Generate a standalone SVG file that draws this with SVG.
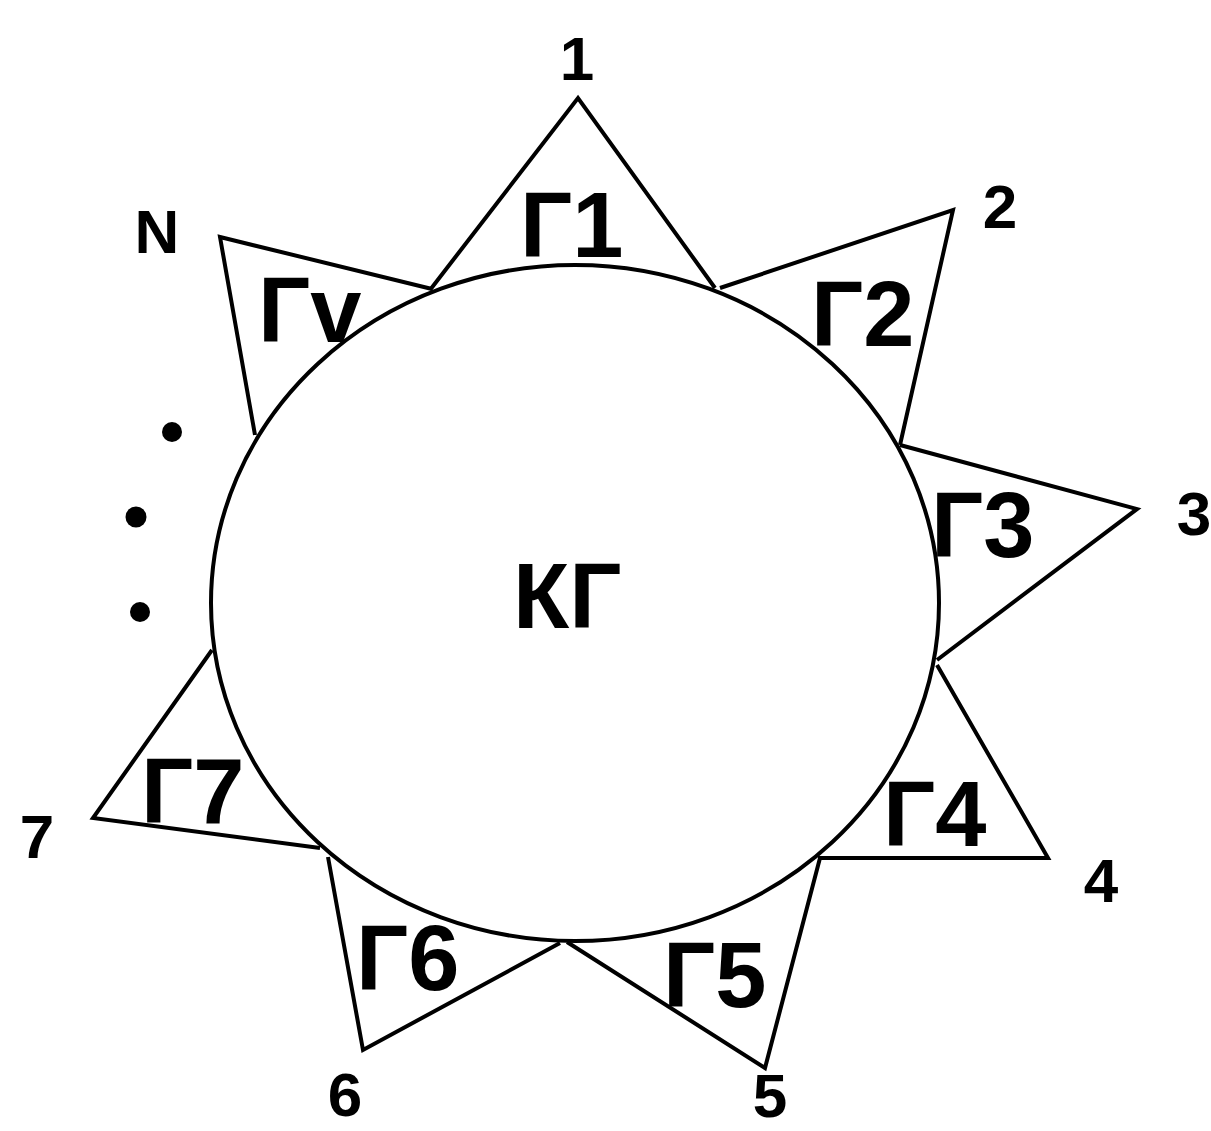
<svg xmlns="http://www.w3.org/2000/svg" width="1211" height="1131" viewBox="0 0 1211 1131">
<style>
.ln{fill:none;stroke:#000;stroke-width:4;stroke-linejoin:miter}
.big{font-family:"Liberation Sans",Arial,sans-serif;font-weight:bold;font-size:92px;fill:#000}
.sm{font-family:"Liberation Sans",Arial,sans-serif;font-weight:bold;font-size:62px;fill:#000;text-anchor:middle}
</style>
<rect width="1211" height="1131" fill="#fff"/>
<g id="core">
<ellipse class="ln" cx="575" cy="603" rx="364" ry="338"/>
<text class="big" x="513" y="628">КГ</text>
</g>
<g id="spike-1">
<polyline class="ln" points="430,290 578,98 715,288"/>
<text class="big" x="520" y="257">Г1</text>
<text class="sm" x="577" y="80">1</text>
</g>
<g id="spike-2">
<polyline class="ln" points="720,288 953,210 900,445"/>
<text class="big" x="811" y="346">Г2</text>
<text class="sm" x="1000" y="228">2</text>
</g>
<g id="spike-3">
<polyline class="ln" points="900,445 1137,509 937,660"/>
<text class="big" x="931" y="557">Г3</text>
<text class="sm" x="1194" y="535">3</text>
</g>
<g id="spike-4">
<polyline class="ln" points="937,665 1048,858 818,858"/>
<text class="big" x="883" y="846">Г4</text>
<text class="sm" x="1101" y="902">4</text>
</g>
<g id="spike-5">
<polyline class="ln" points="820,858 765,1068 567,942"/>
<text class="big" x="663" y="1007">Г5</text>
<text class="sm" x="770" y="1117">5</text>
</g>
<g id="spike-6">
<polyline class="ln" points="560,943 363,1050 328,857"/>
<text class="big" x="356" y="990">Г6</text>
<text class="sm" x="345" y="1116">6</text>
</g>
<g id="spike-7">
<polyline class="ln" points="320,848 93,818 212,650"/>
<text class="big" x="141" y="823">Г7</text>
<text class="sm" x="37" y="858">7</text>
</g>
<g id="spike-N">
<polyline class="ln" points="255,435 220,237 432,289"/>
<text class="big" x="258" y="342">Гv</text>
<text class="sm" x="157" y="253">N</text>
</g>
<g id="ellipsis">
<circle cx="172" cy="432" r="10"/>
<circle cx="136" cy="517" r="10.5"/>
<circle cx="140" cy="612" r="10"/>
</g>
</svg>
